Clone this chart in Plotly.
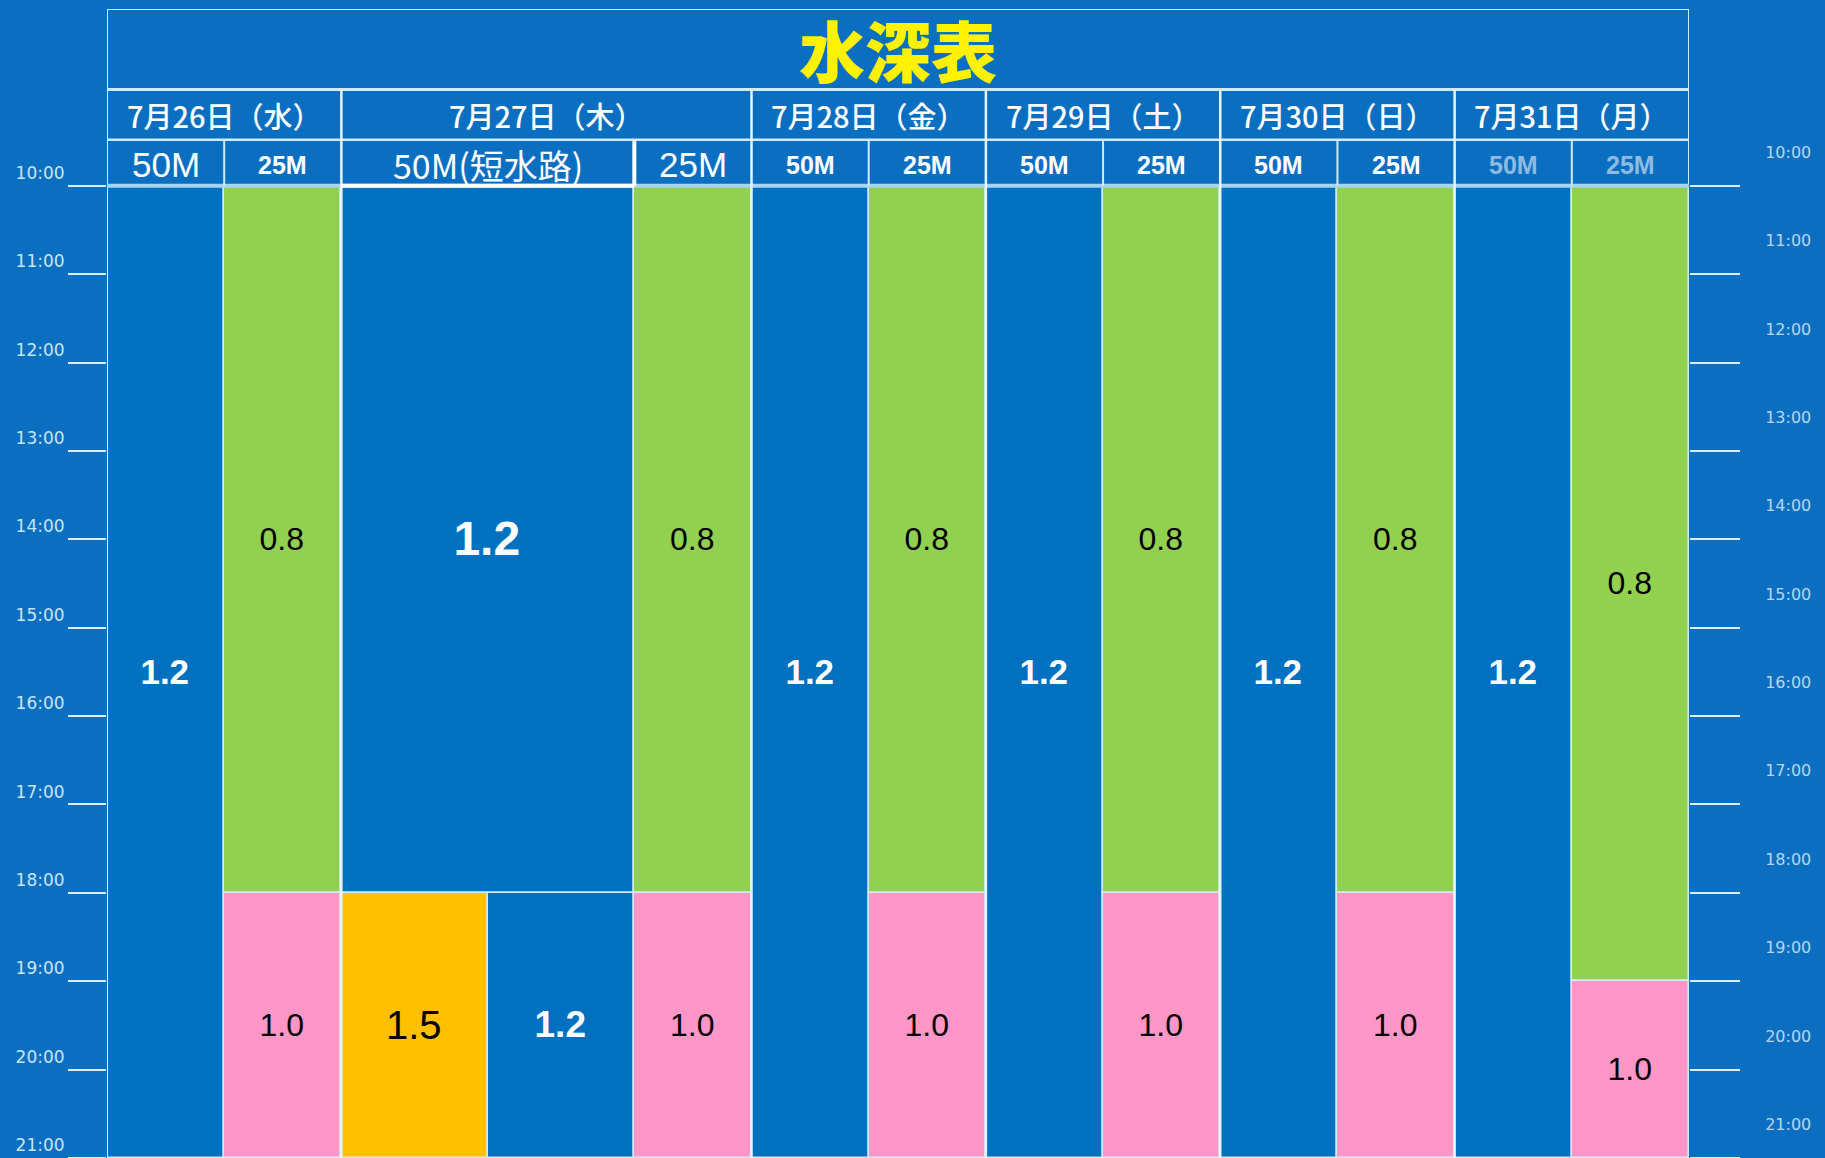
import plotly.graph_objects as go

# ---------------- data ----------------
title_text = "水深表"
day_labels = ["7月26日（水）", "7月27日（木）", "7月28日（金）", "7月29日（土）", "7月30日（日）", "7月31日（月）"]
day_lane_count = [2, 2, 2, 2, 2, 2]
lane_labels = ["50M", "25M", "50M(短水路)", "25M", "50M", "25M", "50M", "25M", "50M", "25M", "50M", "25M"]
lane_units = [1, 1, 2.5, 1, 1, 1, 1, 1, 1, 1, 1, 1]

# segments of the timetable: lane index, share of the lane, start hour, end hour, water depth (m)
seg_lane = [0, 1, 1, 2, 2, 2, 3, 3, 4, 5, 5, 6, 7, 7, 8, 9, 9, 10, 11, 11]
seg_share = ["full", "full", "full", "full", "left", "right", "full", "full", "full", "full",
             "full", "full", "full", "full", "full", "full", "full", "full", "full", "full"]
seg_start = [10, 10, 18, 10, 18, 18, 10, 18, 10, 10, 18, 10, 10, 18, 10, 10, 18, 10, 10, 19]
seg_end = [21, 18, 21, 18, 21, 21, 18, 21, 21, 18, 21, 21, 18, 21, 21, 18, 21, 21, 19, 21]
seg_depth = [1.2, 0.8, 1.0, 1.2, 1.5, 1.2, 0.8, 1.0, 1.2, 0.8, 1.0, 1.2, 0.8, 1.0, 1.2, 0.8, 1.0, 1.2, 0.8, 1.0]

hours = list(range(10, 22))
hour_labels = [f"{h}:00" for h in hours]

# ---------------- styles ----------------
BG = "#0A6FC0"
LANE_BLUE = "#0070C0"
depth_color = {1.2: LANE_BLUE, 0.8: "#92D050", 1.0: "#FF96C8", 1.5: "#FFC000"}
depth_text_color = {1.2: "white", 0.8: "black", 1.0: "black", 1.5: "black"}
LINE = "#d2ebfa"
CJK = "Noto Sans CJK JP"
NUM = "Liberation Sans"

# header rows, expressed on the hour axis (top of chart = 8.0)
Y_TOP, Y_TITLE_BOT, Y_DATE_BOT, Y_BODY = 8.0, 8.912, 9.479, 10.0
Y_BOTTOM = 21.0
RIGHT_SHIFT = 0.38

# lane geometry
lane_x0 = []
acc = 0.0
for w in lane_units:
    lane_x0.append(acc)
    acc += w
total_units = acc
lane_center = [x + w / 2 for x, w in zip(lane_x0, lane_units)]

day_x0, day_x1 = [], []
li = 0
for n in day_lane_count:
    day_x0.append(lane_x0[li])
    day_x1.append(lane_x0[li + n - 1] + lane_units[li + n - 1])
    li += n

# bars
bx, bw, bbase, bdur, bcol, btxt, btsize = [], [], [], [], [], [], []
for ln, share, s, e, d in zip(seg_lane, seg_share, seg_start, seg_end, seg_depth):
    x0, w = lane_x0[ln], lane_units[ln]
    if share == "left":
        w = w / 2
    elif share == "right":
        x0, w = x0 + w / 2, w / 2
    bx.append(x0 + w / 2)
    bw.append(w)
    bbase.append(s)
    bdur.append(e - s)
    bcol.append(depth_color[d])
    label = f"{d:.1f}"
    btxt.append(f"<b>{label}</b>" if depth_text_color[d] == "white" else label)
    if lane_units[ln] > 1 and share == "full":
        size = 48
    elif share != "full":
        size = 40 if d == 1.5 else 37
    elif d == 1.2:
        size = 35
    else:
        size = 32
    btsize.append(size)
btcol = [depth_text_color[d] for d in seg_depth]

fig = go.Figure()
fig.add_trace(go.Bar(
    x=bx, y=bdur, base=bbase, width=bw,
    marker=dict(color=bcol, line=dict(color=LINE, width=1.5)),
    text=btxt, textposition="inside", insidetextanchor="middle", textangle=0,
    constraintext="none",
    textfont=dict(family=NUM, size=btsize, color=btcol),
    hoverinfo="skip", showlegend=False,
))
# helpers so the right-hand axes get drawn
fig.add_trace(go.Scatter(x=[0.5], y=[15], yaxis="y2", mode="markers",
                         marker=dict(opacity=0), hoverinfo="skip", showlegend=False))
fig.add_trace(go.Scatter(x=[0.5], y=[15], yaxis="y3", mode="markers",
                         marker=dict(opacity=0), hoverinfo="skip", showlegend=False))

shapes = []
# outer frame
shapes.append(dict(type="rect", xref="x", yref="y", x0=0, x1=total_units, y0=Y_TOP, y1=Y_BOTTOM,
                   line=dict(color=LINE, width=2), layer="above"))
# header horizontal lines
for yv, wd in [(Y_TITLE_BOT, 3), (Y_DATE_BOT, 2.5)]:
    shapes.append(dict(type="line", xref="x", yref="y", x0=0, x1=total_units, y0=yv, y1=yv,
                       line=dict(color=LINE, width=wd), layer="above"))
shapes.append(dict(type="line", xref="x", yref="y", x0=0, x1=total_units, y0=Y_BODY, y1=Y_BODY,
                   line=dict(color="#a6d4f3", width=4), layer="above"))
# day separators
for x in day_x0[1:]:
    shapes.append(dict(type="line", xref="x", yref="y", x0=x, x1=x, y0=Y_TITLE_BOT, y1=Y_BOTTOM,
                       line=dict(color="#e6f4fc", width=2.5), layer="above"))
# lane separators in the sub-header row
for i in range(1, len(lane_units)):
    x = lane_x0[i]
    if x in day_x0:
        continue
    wide = lane_units[i - 1] > 1
    shapes.append(dict(type="line", xref="x", yref="y", x0=x, x1=x, y0=Y_DATE_BOT, y1=Y_BODY,
                       line=dict(color="white" if wide else LINE, width=4 if wide else 2),
                       layer="above"))
    if wide:
        shapes.append(dict(type="line", xref="x", yref="y", x0=lane_x0[i - 1], x1=x,
                           y0=Y_BODY, y1=Y_BODY, line=dict(color="white", width=4), layer="above"))

annotations = []
annotations.append(dict(x=total_units / 2, y=(Y_TOP + Y_TITLE_BOT) / 2 - 0.01, xref="x", yref="y",
                        text=title_text, showarrow=False,
                        font=dict(family=CJK, size=66, color="#FFF200", weight=900)))
for lab, a, b in zip(day_labels, day_x0, day_x1):
    annotations.append(dict(x=(a + b) / 2, y=(Y_TITLE_BOT + Y_DATE_BOT) / 2, xref="x", yref="y",
                            text=lab, showarrow=False,
                            font=dict(family=CJK, size=29, color="white", weight=500)))
for i, (lab, c) in enumerate(zip(lane_labels, lane_center)):
    big = i in (0, 2, 3)
    faded = i >= len(lane_labels) - 2
    txt = lab if big else f"<b>{lab}</b>"
    annotations.append(dict(x=c, y=(Y_DATE_BOT + Y_BODY) / 2 + 0.02, xref="x", yref="y",
                            text=txt, showarrow=False,
                            font=dict(family=CJK if "短" in lab else NUM,
                                      size=(34 if "短" in lab else 35) if big else 25,
                                      color="#8fbbe3" if faded else "white")))

fig.update_layout(
    width=1825, height=1158,
    margin=dict(l=107, r=136, t=9, b=0, autoexpand=False),
    paper_bgcolor=BG, plot_bgcolor=BG,
    showlegend=False, barmode="overlay", bargap=0,
    xaxis=dict(range=[0, total_units], visible=False, fixedrange=True),
    yaxis=dict(range=[Y_BOTTOM, Y_TOP], tickmode="array", tickvals=hours, ticktext=hour_labels,
               ticks="outside", ticklen=38, tickwidth=2, tickcolor="#dbeefb",
               ticklabelposition="outside top", ticklabelstandoff=38,
               showgrid=False, zeroline=False, showline=False, automargin=False,
               tickfont=dict(family="DejaVu Sans", size=17, color="#c9e4f7")),
    yaxis2=dict(range=[Y_BOTTOM + RIGHT_SHIFT, Y_TOP + RIGHT_SHIFT], overlaying="y", side="right",
                tickmode="array", tickvals=hours, ticktext=hour_labels,
                ticks="outside", ticklen=72, tickcolor="rgba(0,0,0,0)",
                showgrid=False, zeroline=False, showline=False, automargin=False,
                tickfont=dict(family="DejaVu Sans", size=16, color="#b9d6ee")),
    yaxis3=dict(range=[Y_BOTTOM, Y_TOP], overlaying="y", side="right",
                tickmode="array", tickvals=hours, showticklabels=False,
                ticks="outside", ticklen=50, tickwidth=2, tickcolor="#dbeefb",
                showgrid=False, zeroline=False, showline=False, automargin=False),
    shapes=shapes, annotations=annotations,
)

fig.write_html(
    "out.html",
    config={"displayModeBar": False},
    post_script="document.body.style.margin='0';document.body.style.background='%s';" % BG,
)
